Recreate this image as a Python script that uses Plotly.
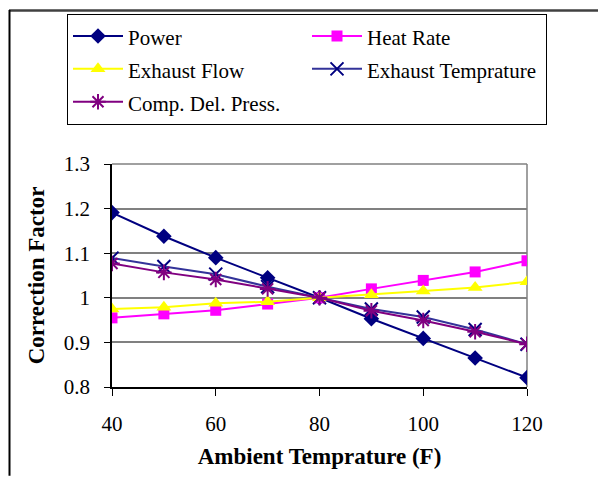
import plotly.graph_objects as go

temps = [40, 50, 60, 70, 80, 90, 100, 110, 120]
power = [1.191, 1.138, 1.090, 1.045, 1.000, 0.953, 0.909, 0.865, 0.821]
heat_rate = [0.955, 0.964, 0.972, 0.986, 1.000, 1.020, 1.039, 1.058, 1.083]
exhaust_flow = [0.975, 0.979, 0.988, 0.991, 1.000, 1.007, 1.015, 1.023, 1.036]
exhaust_temp = [1.089, 1.070, 1.053, 1.025, 1.000, 0.975, 0.957, 0.929, 0.896]
comp_del_press = [1.077, 1.057, 1.041, 1.020, 1.000, 0.971, 0.949, 0.924, 0.896]

x_ticks = [40, 60, 80, 100, 120]
y_ticks = [0.8, 0.9, 1.0, 1.1, 1.2, 1.3]
y_ticklabels = ["0.8", "0.9", "1", "1.1", "1.2", "1.3"]

FONT = "Times New Roman, Liberation Serif, serif"

series = [
    ("Power", power, "#000080", dict(symbol="diamond", size=12, color="#000080")),
    ("Heat Rate", heat_rate, "#FF00FF", dict(symbol="square", size=11, color="#FF00FF")),
    ("Exhaust Flow", exhaust_flow, "#FFFF00", dict(symbol="triangle-up", size=13, color="#FFFF00")),
    ("Exhaust Temprature", exhaust_temp, "#333399",
     dict(symbol="x-thin-open", size=13, color="#000080", line=dict(width=2, color="#000080"))),
    ("Comp. Del. Press.", comp_del_press, "#800080",
     dict(symbol="asterisk-open", size=13, color="#800080", line=dict(width=2, color="#800080"))),
]

fig = go.Figure()
for name, vals, lc, mk in series:
    fig.add_trace(go.Scatter(x=temps, y=vals, name=f'<span style="font-size:21px">{name}</span>',
                             mode="lines+markers",
                             line=dict(color=lc, width=2), marker=mk))

L, R, T, B = 112, 71, 164, 87
W, H = 598, 477
pw, ph = W - L - R, H - T - B

def px(x):
    return (x - L) / pw

def py(y):
    return (H - B - y) / ph

fig.update_layout(
    width=W, height=H,
    margin=dict(l=L, r=R, t=T, b=B),
    paper_bgcolor="white", plot_bgcolor="white",
    font=dict(family=FONT, color="black"),
    showlegend=True,
    legend=dict(
        orientation="h", x=px(67), y=py(11.5), xanchor="left", yanchor="top",
        bgcolor="white", bordercolor="black", borderwidth=1,
        font=dict(family=FONT, size=23, color="black"),
        itemwidth=50, entrywidth=174, traceorder="normal",
    ),
    xaxis=dict(
        range=[40, 120], tickvals=x_ticks, ticks="outside", ticklen=7,
        tickcolor="black", showline=True, linecolor="black", linewidth=1.5,
        showgrid=False, zeroline=False, ticklabelstandoff=10,
        tickfont=dict(family=FONT, size=21),
        title=dict(text="<b>Ambient Temprature (F)</b>", font=dict(family=FONT, size=23), standoff=13),
    ),
    yaxis=dict(
        range=[0.8, 1.3], tickvals=y_ticks, ticktext=y_ticklabels, ticks="outside", ticklen=6,
        tickcolor="black", showline=True, linecolor="black", linewidth=1.5,
        showgrid=True, gridcolor="#808080", gridwidth=1.5, zeroline=False,
        ticklabelstandoff=10,
        tickfont=dict(family=FONT, size=21),
        title=dict(text="<b>Correction Factor</b>", font=dict(family=FONT, size=23), standoff=13),
    ),
)

# plot-area border (top and right) in gray
fig.add_shape(type="line", xref="paper", yref="paper", x0=0, x1=1, y0=1, y1=1,
              line=dict(color="#808080", width=1.5), layer="below")
fig.add_shape(type="line", xref="paper", yref="paper", x0=1, x1=1, y0=0, y1=1,
              line=dict(color="#808080", width=1.5), layer="below")
# outer frame lines (top and left)
fig.add_shape(type="line", xref="paper", yref="paper", x0=px(9), x1=px(600), y0=py(8.5), y1=py(8.5),
              line=dict(color="#404040", width=2.5))
fig.add_shape(type="line", xref="paper", yref="paper", x0=px(9.5), x1=px(9.5), y0=py(8), y1=py(480),
              line=dict(color="black", width=2))

fig.write_html("out.html")
